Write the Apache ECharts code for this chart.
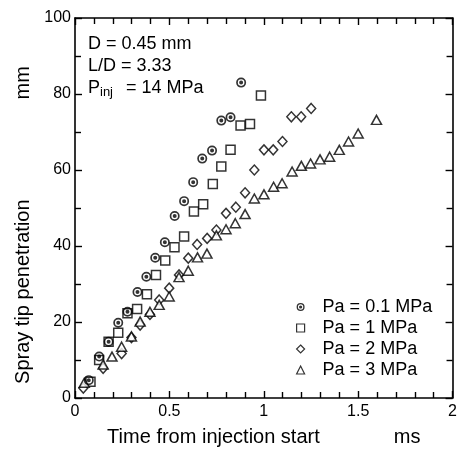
<!DOCTYPE html>
<html><head><meta charset="utf-8">
<script src="https://cdn.jsdelivr.net/npm/echarts@6/dist/echarts.min.js"></script>
<style>html,body{margin:0;padding:0;background:#fff}#c{width:460px;height:454px}</style>
</head><body><div id="c"></div>
<script>
// ---- data ----
const seriesNames = ['Pa = 0.1 MPa', 'Pa = 1 MPa', 'Pa = 2 MPa', 'Pa = 3 MPa'];

const pa01Time = [0.073, 0.128, 0.178, 0.229, 0.278, 0.331, 0.378, 0.425, 0.476, 0.528, 0.578, 0.626, 0.674, 0.726, 0.775, 0.824, 0.880];
const pa01Pen  = [4.7, 10.9, 14.8, 19.8, 22.7, 27.9, 31.9, 36.9, 41.0, 47.9, 51.8, 56.8, 63.0, 65.1, 73.0, 73.9, 83.0];

const pa1Time = [0.082, 0.128, 0.178, 0.229, 0.278, 0.329, 0.381, 0.429, 0.478, 0.527, 0.578, 0.630, 0.679, 0.730, 0.775, 0.824, 0.877, 0.927, 0.985];
const pa1Pen  = [4.3, 10.0, 14.8, 17.2, 22.3, 23.4, 27.3, 32.4, 36.2, 39.7, 42.5, 49.1, 51.0, 56.3, 60.9, 65.3, 71.7, 72.1, 79.6];

const pa2Time = [0.044, 0.149, 0.247, 0.299, 0.345, 0.397, 0.446, 0.499, 0.551, 0.600, 0.647, 0.700, 0.749, 0.800, 0.852, 0.901, 0.950, 1.001, 1.050, 1.099, 1.146, 1.198, 1.251];
const pa2Pen  = [2.6, 7.8, 11.7, 15.9, 19.2, 22.0, 25.8, 28.9, 32.4, 36.8, 40.4, 42.0, 44.2, 48.6, 50.2, 54.0, 60.0, 65.3, 65.3, 67.5, 74.0, 74.0, 76.2];

const pa3Time = [0.049, 0.149, 0.196, 0.247, 0.299, 0.345, 0.397, 0.446, 0.499, 0.551, 0.600, 0.649, 0.699, 0.749, 0.800, 0.849, 0.901, 0.950, 1.001, 1.052, 1.097, 1.150, 1.199, 1.248, 1.298, 1.349, 1.400, 1.449, 1.500, 1.597];
const pa3Pen  = [4.0, 8.8, 10.9, 13.5, 16.2, 20.1, 22.7, 24.5, 26.7, 31.8, 33.5, 37.0, 38.0, 42.8, 44.4, 46.0, 48.4, 52.5, 53.6, 55.6, 56.5, 59.6, 61.1, 61.7, 62.8, 63.5, 65.3, 67.5, 69.6, 73.2];

// axis ticks
const xTickValues = [0, 0.5, 1, 1.5, 2];
const yTickValues = [0, 20, 40, 60, 80, 100];

// annotation lines
const noteLines = ['D = 0.45 mm', 'L/D = 3.33', '{n|P}{s|inj}{n| = 14 MPa}'];

// ---- chart ----
const zip = (xs, ys) => xs.map((x, i) => [x, ys[i]]);
const FONT = 'Liberation Sans, Arial, Helvetica, sans-serif';
const circleDot = 'path://M0,-10A10,10,0,1,1,0,10A10,10,0,1,1,0,-10ZM0,-6.6A6.6,6.6,0,1,0,0,6.6A6.6,6.6,0,1,0,0,-6.6ZM0,-4A4,4,0,1,1,0,4A4,4,0,1,1,0,-4Z';
const hollow = { color: '#fff', borderColor: '#000', borderWidth: 1.5 };

const xMin = xTickValues[0], xMax = xTickValues[xTickValues.length - 1], xInt = xTickValues[1] - xTickValues[0];
const yMin = yTickValues[0], yMax = yTickValues[yTickValues.length - 1], yInt = yTickValues[1] - yTickValues[0];

const mkLine = () => ({ show: true, onZero: false, lineStyle: { color: '#000', width: 1.6 } });
const mkTick = () => ({ show: true, inside: true, length: 7, lineStyle: { color: '#000', width: 1.4 } });
const mkMinor = (n) => ({ show: true, splitNumber: n, length: 6, lineStyle: { color: '#000', width: 1.4 } });

const chart = echarts.init(document.getElementById('c'), null, { renderer: 'canvas' });
chart.setOption({
  animation: false,
  backgroundColor: '#fff',
  textStyle: { fontFamily: FONT },
  grid: { left: 75, right: 4, top: 18, bottom: 56, containLabel: false },
  xAxis: [
    {
      type: 'value', position: 'bottom', min: xMin, max: xMax, interval: xInt,
      axisLine: mkLine(), axisTick: mkTick(), minorTick: mkMinor(5), splitLine: { show: false },
      axisLabel: { color: '#000', fontSize: 16, margin: 6, fontFamily: FONT },
      name: 'Time from injection start{g|}ms', nameLocation: 'middle', nameGap: 29,
      nameTextStyle: { color: '#000', fontSize: 20, fontFamily: FONT, rich: { g: { width: 74 } } }
    },
    {
      type: 'value', position: 'top', min: xMin, max: xMax, interval: xInt,
      axisLine: mkLine(), axisTick: mkTick(), minorTick: mkMinor(5), splitLine: { show: false },
      axisLabel: { show: false }
    }
  ],
  yAxis: [
    {
      type: 'value', position: 'left', min: yMin, max: yMax, interval: yInt,
      axisLine: mkLine(), axisTick: mkTick(), minorTick: mkMinor(2), splitLine: { show: false },
      axisLabel: { color: '#000', fontSize: 16, margin: 4, fontFamily: FONT },
      name: 'Spray tip penetration{g|}mm', nameLocation: 'middle', nameGap: 40,
      nameTextStyle: { color: '#000', fontSize: 20, fontFamily: FONT, padding: [0, 34, 0, 0], rich: { g: { width: 100 } } }
    },
    {
      type: 'value', position: 'right', min: yMin, max: yMax, interval: yInt,
      axisLine: mkLine(), axisTick: mkTick(), minorTick: mkMinor(2), splitLine: { show: false },
      axisLabel: { show: false }
    }
  ],
  legend: {
    orient: 'vertical', left: 291, top: 293,
    itemWidth: 8, itemHeight: 8, itemGap: 3,
    data: seriesNames,
    itemStyle: { borderWidth: 1.2 },
    textStyle: { color: '#000', fontSize: 18, fontFamily: FONT, padding: [0, 0, 0, 13] }
  },
  graphic: noteLines.map((t, i) => ({
    type: 'text', left: 88, top: 35 + i * 22,
    style: {
      text: t, fill: '#000', font: '18px ' + FONT,
      rich: { n: { fontSize: 18, fontFamily: FONT, fill: '#000' }, s: { fontSize: 13, fontFamily: FONT, fill: '#000', padding: [9, 8, 0, 0] } }
    }
  })),
  series: [
    { name: seriesNames[0], type: 'scatter', symbol: circleDot, symbolSize: 10, data: zip(pa01Time, pa01Pen), itemStyle: { color: '#000', borderWidth: 0 }, z: 4 },
    { name: seriesNames[1], type: 'scatter', symbol: 'rect', symbolSize: 9, data: zip(pa1Time, pa1Pen), itemStyle: hollow, z: 3 },
    { name: seriesNames[2], type: 'scatter', symbol: 'diamond', symbolSize: [9, 10], data: zip(pa2Time, pa2Pen), itemStyle: hollow, z: 3 },
    { name: seriesNames[3], type: 'scatter', symbol: 'triangle', symbolSize: [10, 9], data: zip(pa3Time, pa3Pen), itemStyle: hollow, z: 3 }
  ]
});
</script>
</body></html>
